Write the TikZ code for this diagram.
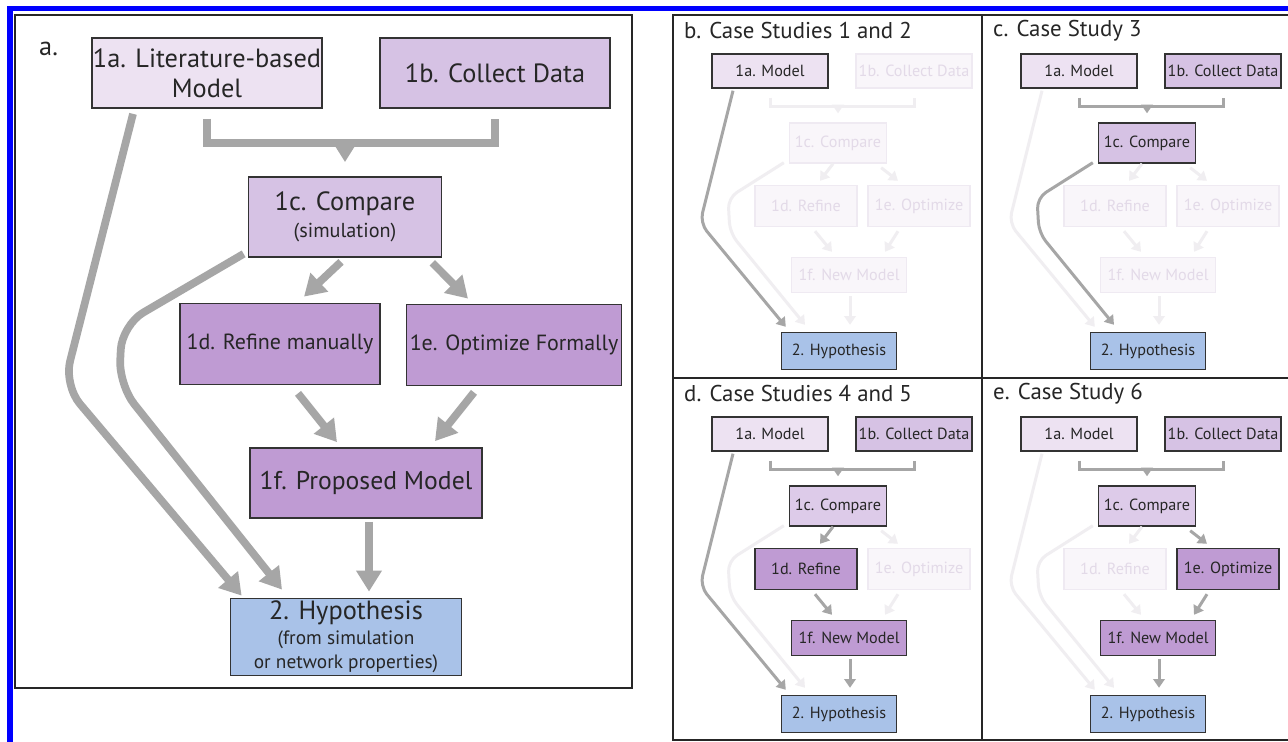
\documentclass[tikz,border=0pt]{standalone}
\usepackage{fontspec}
\setmainfont{PT Sans}
\usetikzlibrary{arrows.meta,calc}

\definecolor{frameblue}{HTML}{0000FF}
\definecolor{boxlite}{HTML}{EDE2F2}
\definecolor{boxmid}{HTML}{D6C2E4}
\definecolor{boxmidlite}{HTML}{DDCBE9}
\definecolor{boxdark}{HTML}{BF9BD3}
\definecolor{boxblue}{HTML}{A9C2E8}
\definecolor{linkgray}{HTML}{A6A6A6}
\definecolor{fadefill}{HTML}{F9F6FA}
\definecolor{fadedraw}{HTML}{EFEAF2}
\definecolor{fadetext}{HTML}{E3DAE8}
\definecolor{fadeline}{HTML}{F0EEF1}

\tikzset{
  box/.style={draw=black!80, line width=1pt, rectangle, inner sep=0pt, align=center, text=black!85},
  bigbox/.style={box, font=\fontsize{15}{17}\selectfont},
  smallbox/.style={box, line width=0.8pt, font=\fontsize{9.2}{11}\selectfont},
  off/.style={draw=fadedraw, fill=fadefill, text=fadetext},
  biglink/.style={draw=linkgray, line width=4.4pt, -{Triangle[length=12pt,width=14pt]}},
  smalllink/.style={draw=linkgray, line width=1.7pt, -{Triangle[length=5pt,width=6.5pt]}},
  offlink/.style={draw=fadeline},
  panel/.style={draw=black!85, line width=1.2pt},
  % which parts of a small panel are greyed out
  boxB/.style={off}, boxC/.style={off}, boxD/.style={off}, boxE/.style={off}, boxF/.style={off},
  linkBr/.style={offlink}, linkCD/.style={offlink}, linkCE/.style={offlink},
  linkDF/.style={offlink}, linkEF/.style={offlink}, linkFH/.style={offlink},
  linkAH/.style={offlink}, linkCH/.style={offlink}
}

% one small case-study panel: #1 prefix, #2,#3 top left corner, #4 title, #5 parts switched on
\newcommand{\casepanel}[5]{%
\begin{scope}[shift={(#2,#3)}, #5]
  \node[anchor=west, font=\fontsize{13}{15}\selectfont, text=black!85] (#1-title) at (5,16) {#4};
  \node[smallbox, fill=boxlite, minimum width=2.32cm, minimum height=0.68cm] (#1-1a) at (97,56) {1a. Model};
  \node[smallbox, fill=boxmid, minimum width=2.32cm, minimum height=0.68cm, boxB] (#1-1b) at (241,56) {1b. Collect Data};
  \node[smallbox, fill=boxmidlite, minimum width=1.94cm, minimum height=0.8cm, boxC] (#1-1c) at (165,128) {1c. Compare};
  \node[smallbox, fill=boxdark, minimum width=2.04cm, minimum height=0.82cm, boxD] (#1-1d) at (133,191) {1d. Refine};
  \node[smallbox, fill=boxdark, minimum width=2.04cm, minimum height=0.82cm, boxE] (#1-1e) at (246,191) {1e. Optimize};
  \node[smallbox, fill=boxdark, minimum width=2.3cm, minimum height=0.7cm, boxF] (#1-1f) at (176,260) {1f. New Model};
  \node[smallbox, fill=boxblue, minimum width=2.3cm, minimum height=0.74cm] (#1-2) at (166,336) {2. Hypothesis};
  \coordinate (#1-bar) at ($(#1-1a.south)+(0,18)$);
  \draw[smalllink, -, linkBr] ($(#1-1a.south)+(0,9)$) -- (#1-bar) -| ($(#1-1b.south)+(0,9)$);
  \draw[smalllink, linkBr, shorten >=0.18cm] (#1-1c.north |- #1-bar) -- (#1-1c.north);
  \draw[smalllink, linkCD] ($(#1-1c.south)+(-5,0)$) -- ($(#1-1d.north)+(14,-4)$);
  \draw[smalllink, linkCE] ($(#1-1c.south east)+(-6,4)$) -- ($(#1-1e.north)+(-21,-4)$);
  \draw[smalllink, linkDF] ($(#1-1d.south)+(9,4)$) -- ($(#1-1f.north)+(-17,-5)$);
  \draw[smalllink, linkEF] ($(#1-1e.south)+(-21,4)$) -- ($(#1-1f.north)+(36,-5)$);
  \draw[smalllink, linkFH] ($(#1-1f.south)+(1,3)$) -- ($(#1-2.north)+(11,-7)$);
  \draw[smalllink, linkAH, rounded corners=6pt] ($(#1-1a.south)+(-37,2)$) -- (27,208) -- ($(#1-2.north west)+(5,-5)$);
  \draw[smalllink, linkCH, rounded corners=6pt] ($(#1-1c.south west)+(-5,-1)$) -- (55,183) -- (57,218) -- ($(#1-2.north)+(-34,-7)$);
\end{scope}}

\begin{document}
\begin{tikzpicture}[x=0.02cm, y=-0.02cm]
\useasboundingbox (0,0) rectangle (1288,742);
\clip (0,0) rectangle (1288,742);
\fill[white] (0,0) rectangle (1288,742);
\draw[frameblue, line width=3.2pt] (10,760) -- (10,8.5) -- (1300,8.5);

% a. overview
\draw[panel] (15,15) rectangle (632,688);
\node[anchor=north west, font=\fontsize{15}{17}\selectfont, text=black!85] (a-label) at (33,36) {a.};
\node[bigbox, fill=boxlite, minimum width=4.6cm, minimum height=1.4cm] (a1) at (207,73) {1a. Literature-based\\Model};
\node[bigbox, fill=boxmid, minimum width=4.6cm, minimum height=1.4cm] (b1) at (495,73) {1b. Collect Data};
\node[bigbox, fill=boxmid, minimum width=3.86cm, minimum height=1.6cm] (c1) at (345,217) {1c. Compare\\[-2pt]{\fontsize{11.5}{13}\selectfont (simulation)}};
\node[bigbox, fill=boxdark, minimum width=4.0cm, minimum height=1.62cm, font=\fontsize{12.5}{14}\selectfont] (d1) at (280,344) {1d. Refine manually};
\node[bigbox, fill=boxdark, minimum width=4.3cm, minimum height=1.62cm, font=\fontsize{12.5}{14}\selectfont] (e1) at (514,345) {1e. Optimize Formally};
\node[bigbox, fill=boxdark, minimum width=4.64cm, minimum height=1.4cm, font=\fontsize{14.6}{17}\selectfont] (f1) at (366,483) {1f. Proposed Model};
\node[bigbox, fill=boxblue, minimum width=4.62cm, minimum height=1.54cm] (h1) at (346,637) {2. Hypothesis\\[-3pt]{\fontsize{11}{12}\selectfont (from simulation}\\[-3pt]{\fontsize{11}{12}\selectfont or network properties)}};
\coordinate (a-bar) at ($(a1.south)+(0,34)$);
\draw[biglink, -] ($(a1.south)+(0,10)$) -- (a-bar) -| ($(b1.south)+(0,10)$);
\draw[biglink, shorten >=0.28cm] (c1.north |- a-bar) -- (c1.north);
\draw[biglink] ($(c1.south)+(-4,4)$) -- ($(d1.north)+(24,-6)$);
\draw[biglink] ($(c1.south east)+(-10,5)$) -- ($(e1.north)+(-46,-5)$);
\draw[biglink] ($(d1.south)+(18,8)$) -- ($(f1.north)+(-29,-5)$);
\draw[biglink] ($(e1.south)+(-40,6)$) -- ($(f1.north)+(69,-6)$);
\draw[biglink] ($(f1.south)+(3,3)$) -- ($(h1.north)+(23,-6)$);
\draw[biglink, rounded corners=14pt] ($(a1.south)+(-74,5)$) -- (64,385) -- ($(h1.north west)+(12,-2)$);
\draw[biglink, rounded corners=14pt] ($(c1.south west)+(-4,-4)$) -- (122,325) -- (119,385) -- ($(h1.north)+(-64,-8)$);

% b.-e. case studies
\draw[panel] (673,15) rectangle (1300,740);
\draw[panel] (982,15) -- (982,740);
\draw[panel] (673,378) -- (1300,378);
\casepanel{b}{673}{15}{b. Case Studies 1 and 2}{linkAH/.style={}}
\casepanel{c}{982}{15}{c. Case Study 3}{boxB/.style={}, boxC/.style={fill=boxmid}, linkBr/.style={}, linkCH/.style={}}
\casepanel{d}{673}{378}{d. Case Studies 4 and 5}{boxB/.style={}, boxC/.style={}, boxD/.style={}, boxF/.style={}, linkBr/.style={}, linkCD/.style={}, linkDF/.style={}, linkFH/.style={}, linkAH/.style={}}
\casepanel{e}{982}{378}{e. Case Study 6}{boxB/.style={}, boxC/.style={}, boxE/.style={}, boxF/.style={}, linkBr/.style={}, linkCE/.style={}, linkEF/.style={}, linkFH/.style={}}
\end{tikzpicture}
\end{document}
